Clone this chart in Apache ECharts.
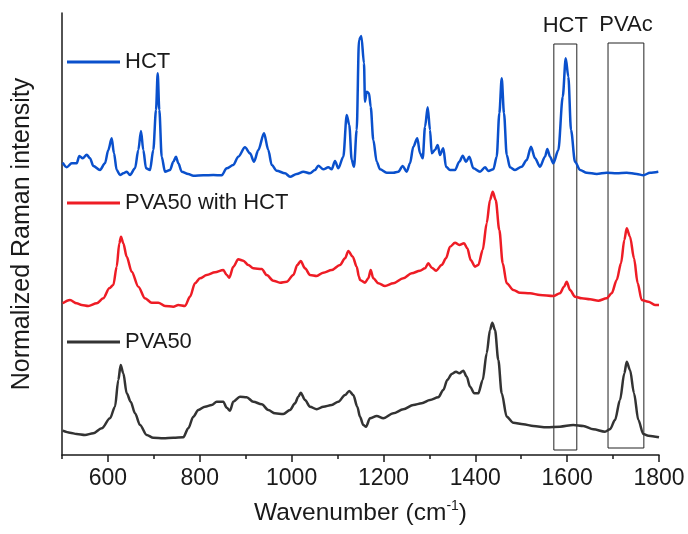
<!DOCTYPE html>
<html><head><meta charset="utf-8">
<script src="https://cdn.jsdelivr.net/npm/echarts@6/dist/echarts.min.js"></script>
<style>html,body{margin:0;padding:0;background:#fff}#c{width:688px;height:534px}</style>
</head><body><div id="c"></div>
<script>
// ---- axis setup ----
const xMin = 500, xMax = 1800;
const xMajorTicks = [600, 800, 1000, 1200, 1400, 1600, 1800];
const yMin = 0, yMax = 442;

// ---- series names ----
const seriesNames = ['HCT', 'PVA50 with HCT', 'PVA50'];

// ---- HCT spectrum (offset, normalized) ----
const hctWave = [501.5,510.2,521.1,532,537.7,545.1,553.8,561,568.2,582.7,593.6,600.8,608.2,613.2,619.1,626.3,633.5,640.9,648.1,659,666.2,672,677,683,691.6,698.8,704.7,708.4,711.9,717.1,724.3,735.2,742.4,748.2,753.3,760.7,775,785.9,807.7,829.5,847.8,858.6,873,883.9,898.5,909.4,918.1,927.5,939.9,949.2,956.7,967.5,985.6,996.5,1011.1,1025.5,1040,1050.9,1058.1,1069,1079.9,1087.3,1094.5,1101.7,1112.6,1120,1125.6,1130.8,1135.9,1141.7,1146.7,1151.8,1157.6,1159.8,1163.5,1168.5,1172.2,1177.9,1185.3,1192.5,1207.1,1221.4,1232.3,1241.9,1250.6,1257.8,1265,1273.7,1279.6,1285.5,1290.5,1296.3,1301.4,1305.1,1312.2,1318.1,1323.1,1330.3,1336.2,1344.9,1355.8,1365.2,1372.6,1379.8,1387,1395.7,1410.3,1421.2,1428.4,1439.3,1446.6,1452.3,1457.5,1462.5,1468.4,1475.6,1486.5,1501,1511.9,1521.3,1530,1540.9,1551.8,1556.8,1562.7,1569.9,1580.8,1590.4,1596.9,1602.6,1608.4,1617.1,1628,1642.6,1664.4,1686.1,1707.9,1729.7,1751.5,1766,1780.5,1798.5];
const hctInt = [292.3,287.7,291.7,291.7,299,296.7,300.3,296.7,289,285,291.7,305,316.7,301.7,285,280,281.7,283.3,280,286.7,305,324,305,286.7,285,305,345,381.7,345,298.3,283.3,285,293.3,298.3,291.7,283.3,281,279.3,279.7,280,279.7,286.7,290,298.3,307.7,301.7,293.3,305,321.7,305,290,284.3,281.7,278.3,281,283.3,281.7,285,289.3,285.7,287.7,285.7,294,286.7,298.3,340,330,295,288.3,325,415,419,391.7,353.3,363.3,361.7,348.3,315,293.3,285.7,282.3,282.3,283.3,289,283.3,291.7,308.3,316.7,301.7,296.7,328.3,347.7,325,301.7,305,310,300,306.7,288.3,285,285,293.3,299.3,293.3,298.3,286.7,283.3,287.7,284,285.7,298.3,341.7,376.7,341.7,300,287.7,285,288.3,295,308.3,296.7,288.3,298.3,306,298.3,291.7,305,358.3,396.7,378.3,325,293.3,285,282.3,281,282.3,281.7,282.3,281,279.7,282.3,283.3];

// ---- PVA50 with HCT spectrum ----
const pvaHctWave = [501.5,517.4,532,542.9,557.3,575.6,589.9,603,611.7,619.1,624.8,628.5,633.5,640.9,651.8,666.2,680.7,695.3,709.7,724.3,742.4,753.3,767.8,778.7,789.6,800.5,815.1,833.2,851.2,858.7,864.3,873,883.9,894.8,905.7,916.6,934.9,945.7,960.1,974.7,989.3,1003.7,1012.4,1019.8,1029.2,1040,1054.6,1069,1087.3,1105.4,1116.3,1123.5,1133,1141.7,1146.7,1148.9,1159.8,1167,1172.2,1177.9,1188.8,1203.4,1221.4,1243.2,1261.5,1279.6,1290.5,1297.7,1305.1,1314.4,1326.8,1336.2,1344.9,1355.8,1365.2,1375.4,1382.6,1390,1399.3,1406.5,1416.1,1424.8,1432,1437.9,1444.4,1452.3,1459.7,1468.4,1482.8,1497.3,1519.1,1540.9,1569.9,1584.4,1593.2,1599,1606.2,1617.1,1631.7,1649.8,1667.9,1686.1,1697,1707.9,1717.3,1724.5,1729.7,1736.9,1745.6,1753.6,1762.3,1776.7,1791.3,1800];
const pvaHctInt = [151.7,155,151.7,150,149,151.7,156.7,166.7,170,188.3,211.7,218.3,211.7,198.3,183.3,168.3,156.7,152.3,152.3,149,148.3,150,149,158.3,171.7,176.7,180,182.7,185,180,177.3,188.3,195.7,194.3,190,186.7,186,180,174.3,172.3,173.3,180,190,194,186.7,180,179,182.3,185,190,196.7,204,198.3,188.3,178.3,175,172.3,176.7,185,176.7,171.7,169,171.7,176.7,181.7,184.3,186.7,191.7,187.3,184.3,190,196.7,208.3,212.3,210,211.7,206.7,195,188.3,190,205,231.7,255,263.3,255,225,191.7,171.7,165,162.3,161.7,160,159,161.7,168.3,173.3,165,158.3,156.7,155.7,154.3,156.7,161.7,175,191.7,215,226.7,218.3,196.7,171.7,155,153.3,150,150];

// ---- PVA50 spectrum ----
const pvaWave = [501.5,517.4,532,550.1,568.2,586.5,604.5,615.4,622.6,627.8,633.5,640.9,649.6,659,669.9,684.4,698.8,720.6,742.4,764.1,775,785.9,796.8,811.4,826,836.9,851.2,858.7,865.8,873,887.6,902.2,916.6,934.9,949.2,963.8,981.9,996.5,1007.4,1014.6,1019.8,1029.2,1040,1054.6,1069,1087.3,1101.7,1116.3,1125.6,1134.3,1143,1148.9,1156.1,1162,1170.7,1185.3,1199.7,1221.4,1243.2,1265,1283.3,1301.4,1319.4,1330.3,1339,1348.6,1358,1365.2,1373.9,1381.3,1388.5,1397.8,1406.5,1416.1,1424.8,1432,1437,1442.9,1450.1,1457.5,1468.4,1482.8,1504.5,1526.3,1555.5,1584.4,1613.4,1635.2,1657,1682.4,1693.3,1704.2,1715.1,1724.5,1729.7,1736.9,1745.6,1755,1765.8,1776.7,1800];
const pvaInt = [24.3,22.3,21,20,21.7,26.7,36.7,48.3,75,90,81.7,61.7,53.3,41.7,30,20,17.3,16.7,17.3,17.7,26.7,38.3,45,48.3,50,53.3,53.3,47.3,44.3,53.3,58.3,57.7,53.3,50.7,45,41.7,41,45,51.7,58.3,62.3,55,48.3,45.7,48.3,50,53.3,60,64,60,48.3,38.3,30,28.3,36.7,39,36.7,41.7,45.7,50,51.7,55,57.7,65,75,81,83.3,81.7,84.3,78.3,68.3,61.7,61.7,75,101.7,125,132.3,125,95,61.7,38.3,32.3,30.7,29,27.7,28.3,30,29,25.7,23.3,25.7,35,55,81.7,93.3,85,61.7,35,21,19.3,17.7];

// ---- highlighted regions (boxes) ----
const boxLabels = ['HCT', 'PVAc'];
const boxX = [[1571, 1621], [1689, 1767]];
const boxY = [[5, 411], [7, 412]];

const FONT = '"Liberation Sans", Arial, sans-serif';
const TXT = '#1a1a1a';
const colors = ['#0a50cc', '#ee1c25', '#333333'];
const waves = [hctWave, pvaHctWave, pvaWave];
const ints = [hctInt, pvaHctInt, pvaInt];
const legendTops = [51, 192, 331];

function pairs(w, v) {
  const n = Math.min(w.length, v.length), out = [];
  for (let i = 0; i < n; i++) out.push([w[i], v[i]]);
  return out;
}

const chart = echarts.init(document.getElementById('c'), null, {renderer: 'canvas'});
const series = seriesNames.map((name, i) => ({
  name, type: 'line', xAxisIndex: 0, yAxisIndex: 0,
  data: pairs(waves[i], ints[i]),
  showSymbol: false, symbol: 'none',
  smooth: 0.3, smoothMonotone: 'x',
  color: colors[i],
  lineStyle: {width: 2.5, color: colors[i], join: 'round'},
  z: 3
}));
series[0].markArea = {
  silent: true,
  itemStyle: {color: 'rgba(0,0,0,0)', borderColor: '#222', borderWidth: 1},
  label: {show: true, position: 'top', distance: 7, fontSize: 22, color: TXT, fontFamily: FONT},
  data: boxLabels.map((lab, i) => [
    {name: lab, xAxis: boxX[i][0], yAxis: boxY[i][0]},
    {xAxis: boxX[i][1], yAxis: boxY[i][1]}
  ])
};

chart.setOption({
  animation: false,
  backgroundColor: '#fff',
  grid: {left: 62, right: 29, top: 13, bottom: 79, containLabel: false},
  legend: seriesNames.map((n, i) => ({
    data: [n], left: 67, top: legendTops[i], padding: 0,
    icon: 'rect', itemWidth: 53, itemHeight: 3, itemGap: 0,
    selectedMode: false,
    textStyle: {fontSize: 22, color: TXT, fontFamily: FONT}
  })),
  xAxis: [{
    type: 'value', min: xMin, max: xMax, position: 'bottom',
    axisLine: {show: true, lineStyle: {color: TXT, width: 1.5}},
    axisTick: {show: true, customValues: xMajorTicks, length: 7, lineStyle: {color: TXT, width: 1.5}},
    axisLabel: {customValues: xMajorTicks, fontSize: 23, color: TXT, fontFamily: FONT, margin: 12,
                formatter: v => String(v)},
    splitLine: {show: false},
    name: '{a|Wavenumber (cm}{s|-1}{a|)}',
    nameLocation: 'middle', nameGap: 44,
    nameTextStyle: {
      fontFamily: FONT, color: TXT, fontSize: 24,
      rich: {
        a: {fontSize: 24.5, fontFamily: FONT, color: TXT, lineHeight: 28},
        s: {fontSize: 14, fontFamily: FONT, color: TXT, verticalAlign: 'top', lineHeight: 28, padding: [0, 0, 10, 0]}
      }
    }
  }, {
    type: 'value', min: xMin, max: xMax, interval: 100, position: 'bottom',
    axisLine: {show: false},
    axisTick: {show: true, length: 4, lineStyle: {color: TXT, width: 1.5}},
    axisLabel: {show: false},
    splitLine: {show: false}
  }],
  yAxis: {
    type: 'value', min: yMin, max: yMax,
    axisLine: {show: true, lineStyle: {color: TXT, width: 1.5}},
    axisTick: {show: false}, axisLabel: {show: false}, splitLine: {show: false},
    name: 'Normalized Raman intensity', nameLocation: 'middle', nameGap: 27,
    nameTextStyle: {fontSize: 25, color: TXT, fontFamily: FONT}
  },
  series
});
</script></body></html>
